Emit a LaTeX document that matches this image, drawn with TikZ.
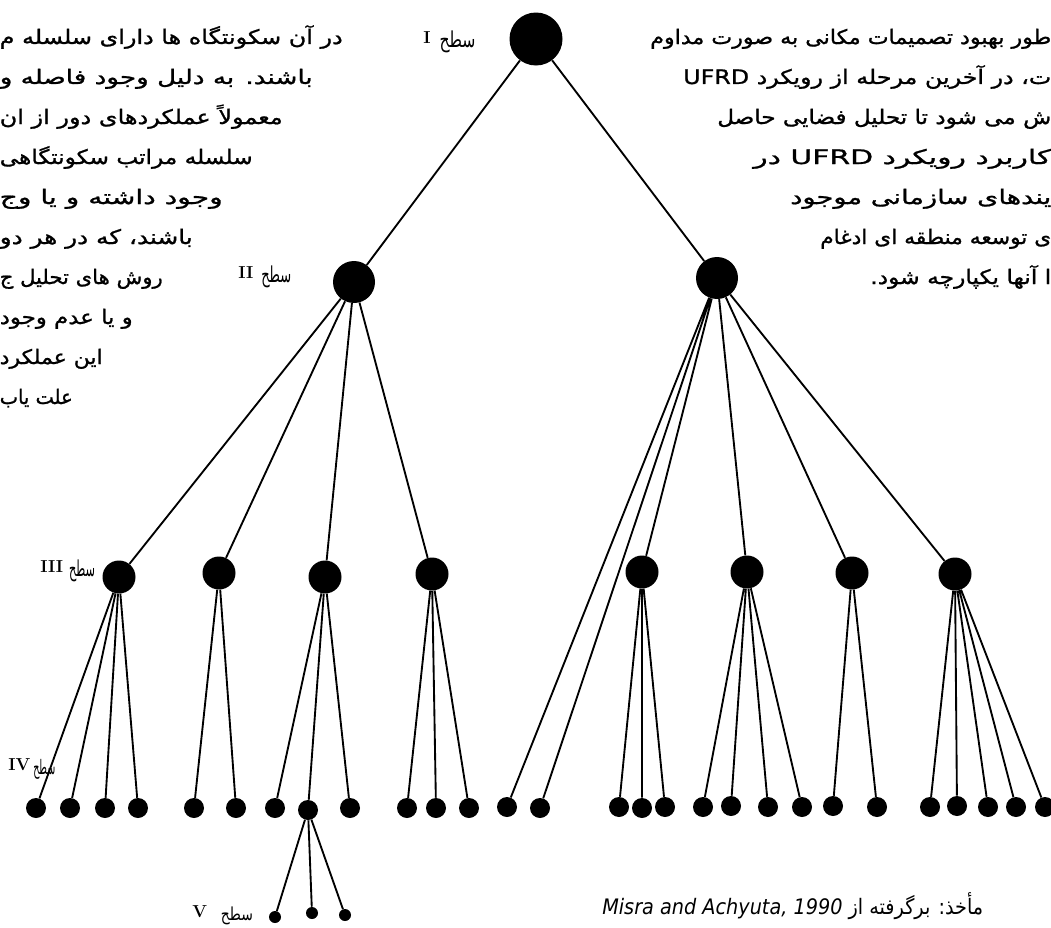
\documentclass[tikz,border=0pt]{standalone}
\usepackage{fontspec}
\usepackage{graphicx}
\TeXXeTstate=1
\newfontfamily\farsi[Script=Arabic]{DejaVu Sans}
\newfontfamily\farsitext[Script=Arabic,FakeBold=1]{DejaVu Sans}
\newdimen\pxu \pxu=0.75pt
\tikzset{
  toplvl/.style={circle, fill=black, inner sep=0pt, minimum size=39.75pt},
  hub/.style={circle, fill=black, inner sep=0pt, minimum size=31.5pt},
  subhub/.style={circle, fill=black, inner sep=0pt, minimum size=24.75pt},
  leafdot/.style={circle, fill=black, inner sep=0pt, minimum size=15pt},
  twig/.style={circle, fill=black, inner sep=0pt, minimum size=9pt},
  link/.style={line width=1.4pt, draw=black},
  para/.style={inner sep=0pt, font=\farsitext\fontsize{15}{18}\selectfont},
  lvl/.style={inner sep=0pt, anchor=west, font=\farsi\fontsize{15}{17}\selectfont},
  cite/.style={inner sep=0pt, font=\farsi\fontsize{16}{18}\selectfont},
}
\newcommand{\fitline}[2]{\resizebox{#1\pxu}{\height}{#2}}
\newcommand{\rnum}[1]{{\rmfamily\bfseries\fontsize{13}{13}\selectfont #1}}
% numeral, gap, then the handwritten word squeezed to width x height
\newcommand{\lvmark}[4]{\rnum{#1}\hspace{#2\pxu}\raisebox{-0.25\height}{\resizebox*{#3\pxu}{#4\pxu}{\beginR سطح\endR}}}

\begin{document}
\begin{tikzpicture}[x=0.75pt, y=-0.75pt]
    \useasboundingbox (0,0) rectangle (1051,928);
    \fill[white] (0,0) rectangle (1051,928);
    \clip (0,0) rectangle (1051,928);

    % text of the page, left of the tree
    \node[para, anchor=base east] (lt0) at (343,44) {\fitline{343}{\beginR در آن سکونتگاه ها دارای سلسله م\endR}};
    \node[para, anchor=base east] (lt1) at (313,84) {\fitline{313}{\beginR باشند. به دلیل وجود فاصله و\endR}};
    \node[para, anchor=base east] (lt2) at (283,124) {\fitline{283}{\beginR معمولاً عملکردهای دور از ان\endR}};
    \node[para, anchor=base east] (lt3) at (253,164) {\fitline{253}{\beginR سلسله مراتب سکونتگاهی\endR}};
    \node[para, anchor=base east] (lt4) at (223,204) {\fitline{223}{\beginR وجود داشته و یا وج\endR}};
    \node[para, anchor=base east] (lt5) at (193,244) {\fitline{193}{\beginR باشند، که در هر دو\endR}};
    \node[para, anchor=base east] (lt6) at (163,284) {\fitline{163}{\beginR روش های تحلیل ج\endR}};
    \node[para, anchor=base east] (lt7) at (133,324) {\fitline{133}{\beginR و یا عدم وجود\endR}};
    \node[para, anchor=base east] (lt8) at (103,364) {\fitline{103}{\beginR این عملکرد\endR}};
    \node[para, anchor=base east] (lt9) at (73,404) {\fitline{73}{\beginR علت یاب\endR}};

    % text of the page, right of the tree
    \node[para, anchor=base west] (rt0) at (650,44) {\fitline{401}{\beginR طور بهبود تصمیمات مکانی به صورت مداوم\endR}};
    \node[para, anchor=base west] (rt1) at (683,84) {\fitline{368}{\beginR ت، در آخرین مرحله از رویکرد \beginL UFRD\endL\endR}};
    \node[para, anchor=base west] (rt2) at (717,124) {\fitline{334}{\beginR ش می شود تا تحلیل فضایی حاصل\endR}};
    \node[para, anchor=base west] (rt3) at (753,164) {\fitline{298}{\beginR کاربرد رویکرد \beginL UFRD\endL\ در\endR}};
    \node[para, anchor=base west] (rt4) at (790,204) {\fitline{261}{\beginR یندهای سازمانی موجود\endR}};
    \node[para, anchor=base west] (rt5) at (820,244) {\fitline{231}{\beginR ی توسعه منطقه ای ادغام\endR}};
    \node[para, anchor=base west] (rt6) at (870,284) {\fitline{181}{\beginR ا آنها یکپارچه شود.\endR}};

    % levels I and II
    \node[toplvl] (r) at (536,39) {};
    \node[hub] (hl) at (354,282) {};
    \node[hub] (hr) at (717,278) {};

    % level III
    \node[subhub] (ta) at (119,577) {};
    \node[subhub] (tb) at (219,573) {};
    \node[subhub] (tc) at (325,577) {};
    \node[subhub] (td) at (432,574) {};
    \node[subhub] (te) at (642,572) {};
    \node[subhub] (tf) at (747,572) {};
    \node[subhub] (tg) at (852,573) {};
    \node[subhub] (th) at (955,574) {};

    % level IV
    \node[leafdot] (la1) at (36,808) {};
    \node[leafdot] (la2) at (70,808) {};
    \node[leafdot] (la3) at (105,808) {};
    \node[leafdot] (la4) at (138,808) {};
    \node[leafdot] (lb1) at (194,808) {};
    \node[leafdot] (lb2) at (236,808) {};
    \node[leafdot] (lc1) at (275,808) {};
    \node[leafdot] (lc2) at (308,810) {};
    \node[leafdot] (lc3) at (350,808) {};
    \node[leafdot] (ld1) at (407,808) {};
    \node[leafdot] (ld2) at (436,808) {};
    \node[leafdot] (ld3) at (469,808) {};
    \node[leafdot] (lr1) at (507,807) {};
    \node[leafdot] (lr2) at (540,808) {};
    \node[leafdot] (le1) at (619,807) {};
    \node[leafdot] (le2) at (642,808) {};
    \node[leafdot] (le3) at (665,807) {};
    \node[leafdot] (lf1) at (703,807) {};
    \node[leafdot] (lf2) at (731,806) {};
    \node[leafdot] (lf3) at (768,807) {};
    \node[leafdot] (lf4) at (802,807) {};
    \node[leafdot] (lg1) at (833,806) {};
    \node[leafdot] (lg2) at (877,807) {};
    \node[leafdot] (lh1) at (930,807) {};
    \node[leafdot] (lh2) at (957,806) {};
    \node[leafdot] (lh3) at (988,807) {};
    \node[leafdot] (lh4) at (1016,807) {};
    \node[leafdot] (lh5) at (1045,807) {};

    % level V
    \node[twig] (lv1) at (275,917) {};
    \node[twig] (lv2) at (312,913) {};
    \node[twig] (lv3) at (345,915) {};

    \draw[link] (r) -- (hl) (r) -- (hr);
    \draw[link] (hl) -- (ta) (hl) -- (tb) (hl) -- (tc) (hl) -- (td);
    \draw[link] (hr) -- (lr1) (hr) -- (lr2) (hr) -- (te) (hr) -- (tf) (hr) -- (tg) (hr) -- (th);
    \draw[link] (ta) -- (la1) (ta) -- (la2) (ta) -- (la3) (ta) -- (la4);
    \draw[link] (tb) -- (lb1) (tb) -- (lb2);
    \draw[link] (tc) -- (lc1) (tc) -- (lc2) (tc) -- (lc3);
    \draw[link] (td) -- (ld1) (td) -- (ld2) (td) -- (ld3);
    \draw[link] (te) -- (le1) (te) -- (le2) (te) -- (le3);
    \draw[link] (tf) -- (lf1) (tf) -- (lf2) (tf) -- (lf3) (tf) -- (lf4);
    \draw[link] (tg) -- (lg1) (tg) -- (lg2);
    \draw[link] (th) -- (lh1) (th) -- (lh2) (th) -- (lh3) (th) -- (lh4) (th) -- (lh5);
    \draw[link] (lc2) -- (lv1) (lc2) -- (lv2) (lc2) -- (lv3);

    % level marks
    \node[lvl] (sI) at (423,42) {\lvmark{I}{9}{36}{22}};
    \node[lvl] (sII) at (238,277) {\lvmark{II}{8}{30}{22}};
    \node[lvl] (sIII) at (40,571) {\lvmark{III}{6}{26}{22}};
    \node[lvl] (sIV) at (8,769) {\lvmark{IV}{3}{22}{20}};
    \node[lvl] (sV) at (192,915) {\lvmark{V}{14}{32}{18}};

    \node[cite, anchor=base west] (src) at (602,914)
      {\resizebox{381\pxu}{\height}{\beginR مأخذ: برگرفته از \beginL\itshape Misra and Achyuta, 1990\endL\endR}};
\end{tikzpicture}
\end{document}
